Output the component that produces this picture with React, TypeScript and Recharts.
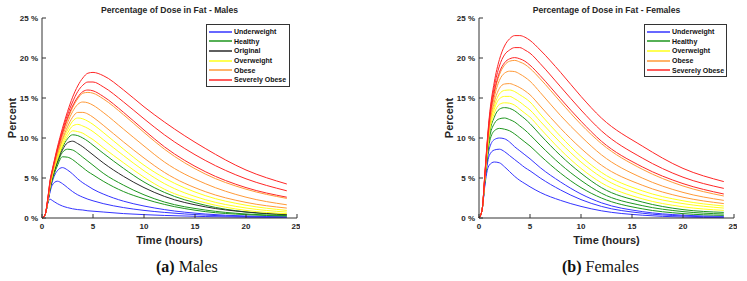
import { LineChart, Line, XAxis, YAxis, Legend } from "recharts";

// sample times (hours) shared by every curve
const hours = [0, 0.3, 0.6, 0.8, 1, 1.5, 2, 2.5, 3, 3.5, 4, 4.5, 5, 6, 8, 10, 12, 16, 20, 24];
const hourTicks = [0, 5, 10, 15, 20, 25];
const percentTicks = [0, 5, 10, 15, 20, 25];

// males, % of dose in fat
const maleUnderweight = [
  [0, 0.4, 2.0, 2.35, 2.2, 1.8, 1.5, 1.3, 1.15, 1.05, 1.0, 0.9, 0.85, 0.75, 0.55, 0.42, 0.32, 0.18, 0.1, 0.06],
  [0, 0.4, 2.1, 3.3, 4.1, 4.6, 4.3, 3.8, 3.3, 2.9, 2.6, 2.35, 2.15, 1.8, 1.3, 0.95, 0.7, 0.36, 0.18, 0.1],
  [0, 0.4, 2.2, 3.5, 4.5, 5.9, 6.3, 6.0, 5.5, 4.9, 4.4, 4.0, 3.6, 3.0, 2.1, 1.5, 1.05, 0.5, 0.25, 0.15],
];
const maleHealthy = [
  [0, 0.4, 2.2, 3.7, 4.7, 6.5, 7.65, 7.6, 7.3, 6.8, 6.3, 5.8, 5.4, 4.6, 3.3, 2.4, 1.7, 0.8, 0.42, 0.25],
  [0, 0.4, 2.3, 3.8, 4.9, 6.8, 8.2, 8.6, 8.5, 8.1, 7.6, 7.1, 6.6, 5.6, 4.1, 2.9, 2.0, 1.0, 0.5, 0.3],
  [0, 0.4, 2.4, 4.0, 5.1, 7.2, 8.8, 9.9, 10.4, 10.3, 10.0, 9.6, 9.1, 8.1, 6.2, 4.5, 3.2, 1.6, 0.75, 0.4],
];
const maleOriginal = [
  [0, 0.4, 2.3, 3.9, 5.0, 7.0, 8.5, 9.4, 9.6, 9.3, 8.9, 8.4, 7.9, 6.9, 5.2, 3.8, 2.7, 1.4, 0.75, 0.45],
];
const maleOverweight = [
  [0, 0.4, 2.4, 4.0, 5.2, 7.3, 9.0, 10.2, 10.9, 10.8, 10.6, 10.2, 9.8, 8.8, 6.9, 5.1, 3.6, 1.9, 0.95, 0.54],
  [0, 0.4, 2.4, 4.1, 5.3, 7.5, 9.3, 10.6, 11.5, 11.7, 11.5, 11.2, 10.8, 9.8, 7.8, 5.9, 4.3, 2.3, 1.25, 0.74],
  [0, 0.4, 2.5, 4.2, 5.4, 7.7, 9.6, 11.0, 12.1, 12.5, 12.4, 12.1, 11.7, 10.7, 8.6, 6.6, 5.0, 2.8, 1.6, 0.95],
];
const maleObese = [
  [0, 0.4, 2.5, 4.3, 5.5, 7.9, 9.8, 11.4, 12.6, 13.2, 13.2, 13.0, 12.6, 11.6, 9.5, 7.5, 5.7, 3.3, 1.95, 1.24],
  [0, 0.4, 2.6, 4.4, 5.6, 8.1, 10.2, 11.9, 13.3, 14.2, 14.5, 14.4, 14.1, 13.2, 11.1, 9.0, 7.0, 4.3, 2.6, 1.65],
  [0, 0.4, 2.6, 4.5, 5.7, 8.3, 10.5, 12.3, 13.8, 14.9, 15.6, 15.7, 15.6, 14.9, 12.9, 10.7, 8.6, 5.5, 3.6, 2.45],
];
const maleSeverelyObese = [
  [0, 0.4, 2.7, 4.6, 5.8, 8.4, 10.6, 12.5, 14.0, 15.1, 15.8, 16.0, 15.9, 15.2, 13.2, 11.0, 8.9, 5.8, 3.8, 2.6],
  [0, 0.4, 2.7, 4.7, 5.9, 8.6, 10.9, 12.9, 14.5, 15.8, 16.6, 17.0, 17.0, 16.4, 14.5, 12.4, 10.4, 7.2, 4.9, 3.4],
  [0, 0.4, 2.8, 4.8, 6.0, 8.8, 11.2, 13.3, 15.1, 16.5, 17.5, 18.1, 18.2, 17.8, 16.0, 13.9, 12.0, 8.7, 6.0, 4.25],
];

// females, % of dose in fat
const femaleUnderweight = [
  [0, 1.0, 4.3, 5.9, 6.6, 7.0, 6.9, 6.4, 5.8, 5.2, 4.7, 4.3, 3.9, 3.2, 2.2, 1.45, 0.9, 0.35, 0.12, 0.05],
  [0, 1.0, 4.6, 6.6, 7.8, 8.5, 8.6, 8.3, 7.8, 7.3, 6.8, 6.3, 5.9, 5.0, 3.5, 2.3, 1.45, 0.6, 0.25, 0.1],
  [0, 1.0, 4.8, 7.0, 8.6, 9.8, 10.0, 9.9, 9.5, 8.9, 8.4, 7.9, 7.4, 6.3, 4.5, 3.0, 1.9, 0.8, 0.35, 0.2],
];
const femaleHealthy = [
  [0, 1.0, 5.0, 7.4, 9.3, 10.9, 11.2, 11.1, 10.9, 10.5, 10.0, 9.5, 9.0, 7.8, 5.6, 3.8, 2.5, 1.15, 0.55, 0.33],
  [0, 1.0, 5.1, 7.7, 9.8, 11.8, 12.4, 12.5, 12.3, 12.0, 11.5, 11.0, 10.4, 9.1, 6.7, 4.7, 3.1, 1.55, 0.8, 0.5],
  [0, 1.0, 5.2, 7.9, 10.2, 12.6, 13.6, 13.8, 13.7, 13.4, 12.9, 12.4, 11.8, 10.4, 7.8, 5.6, 3.8, 2.0, 1.05, 0.7],
];
const femaleOverweight = [
  [0, 1.0, 5.3, 8.1, 10.5, 13.1, 14.2, 14.4, 14.35, 14.1, 13.6, 13.1, 12.6, 11.2, 8.5, 6.2, 4.4, 2.4, 1.4, 0.95],
  [0, 1.0, 5.4, 8.3, 10.8, 13.6, 14.9, 15.2, 15.2, 14.9, 14.5, 14.0, 13.5, 12.1, 9.4, 7.0, 5.1, 2.9, 1.8, 1.24],
  [0, 1.0, 5.5, 8.5, 11.0, 14.0, 15.5, 15.95, 16.0, 15.8, 15.4, 15.0, 14.5, 13.0, 10.2, 7.7, 5.7, 3.4, 2.15, 1.5],
];
const femaleObese = [
  [0, 1.0, 5.6, 8.6, 11.2, 14.5, 16.2, 16.75, 16.8, 16.6, 16.3, 15.9, 15.4, 14.0, 11.2, 8.7, 6.6, 4.1, 2.6, 1.8],
  [0, 1.0, 5.7, 8.8, 11.5, 15.1, 17.2, 18.1, 18.35, 18.3, 18.0, 17.6, 17.1, 15.7, 12.8, 10.2, 7.9, 5.0, 3.2, 2.2],
  [0, 1.0, 5.8, 9.0, 11.8, 15.6, 17.9, 19.1, 19.6, 19.7, 19.5, 19.2, 18.7, 17.4, 14.5, 11.7, 9.3, 6.1, 4.0, 2.75],
];
const femaleSeverelyObese = [
  [0, 1.0, 5.8, 9.1, 11.9, 15.8, 18.2, 19.4, 19.9, 20.05, 19.9, 19.6, 19.1, 17.8, 14.9, 12.1, 9.6, 6.4, 4.3, 3.0],
  [0, 1.0, 5.9, 9.3, 12.2, 16.4, 19.0, 20.4, 21.0, 21.3, 21.3, 21.0, 20.6, 19.3, 16.4, 13.5, 10.9, 7.5, 5.1, 3.7],
  [0, 1.0, 6.0, 9.5, 12.5, 17.0, 19.8, 21.5, 22.4, 22.8, 22.8, 22.6, 22.2, 21.0, 18.2, 15.2, 12.5, 9.0, 6.2, 4.55],
];

const BLUE = "#3434ff";
const GREEN = "#1e961e";
const BLACK = "#2a2a2a";
const YELLOW = "#ffff1a";
const ORANGE = "#ff9a38";
const RED = "#ff2626";
const AXIS = "#333333";
const TEXT = "#262626";
const FONT = '"Liberation Sans", Arial, Helvetica, sans-serif';

type Group = { name: string; color: string; curves: number[][] };

const maleGroups: Group[] = [
  { name: "Underweight", color: BLUE, curves: maleUnderweight },
  { name: "Healthy", color: GREEN, curves: maleHealthy },
  { name: "Original", color: BLACK, curves: maleOriginal },
  { name: "Overweight", color: YELLOW, curves: maleOverweight },
  { name: "Obese", color: ORANGE, curves: maleObese },
  { name: "Severely Obese", color: RED, curves: maleSeverelyObese },
];

const femaleGroups: Group[] = [
  { name: "Underweight", color: BLUE, curves: femaleUnderweight },
  { name: "Healthy", color: GREEN, curves: femaleHealthy },
  { name: "Overweight", color: YELLOW, curves: femaleOverweight },
  { name: "Obese", color: ORANGE, curves: femaleObese },
  { name: "Severely Obese", color: RED, curves: femaleSeverelyObese },
];

function buildRows(groups: Group[]) {
  return hours.map((t, i) => {
    const row: Record<string, number> = { t };
    groups.forEach((g, gi) => g.curves.forEach((c, ci) => (row[`s${gi}_${ci}`] = c[i])));
    return row;
  });
}

const tickStyle = { fontSize: 8, fontWeight: 700, fill: TEXT, fontFamily: FONT };

// one entry per group, in plotting order
function BoxLegend({ payload, width, groups }: any) {
  const items = (payload || []).filter((p: any) => p.type !== "none");
  const order = groups.map((g: Group) => g.name);
  const seen = new Set<string>();
  const entries = items
    .filter((p: any) => (seen.has(p.value) ? false : (seen.add(p.value), true)))
    .sort((a: any, b: any) => order.indexOf(a.value) - order.indexOf(b.value));
  return (
    <div style={{ width, boxSizing: "border-box", border: `1px solid ${AXIS}`, background: "#fff", padding: "2px 0 1px 2px" }}>
      {entries.map((p: any) => (
        <div key={p.value} style={{ display: "flex", alignItems: "center", height: 9.6 }}>
          <svg width={23} height={4} style={{ flex: "none" }}>
            <line x1={0} y1={2} x2={23} y2={2} stroke={p.color} strokeWidth={1.5} />
          </svg>
          <span style={{ marginLeft: 2, fontSize: 7, fontWeight: 700, color: "#111", fontFamily: FONT, whiteSpace: "nowrap", lineHeight: "9px" }}>
            {p.value}
          </span>
        </div>
      ))}
    </div>
  );
}

function FatChart({ groups, title, legendLeft, legendWidth, left }: { groups: Group[]; title: string; legendLeft: number; legendWidth: number; left: number }) {
  const rows = buildRows(groups);
  return (
    <div style={{ position: "absolute", left, top: 0, width: 300, height: 250, fontFamily: FONT }}>
      <div style={{ position: "absolute", left: 42, top: 5, width: 255, textAlign: "center", fontSize: 8.6, fontWeight: 700, color: TEXT, lineHeight: "11px" }}>
        {title}
      </div>
      <LineChart width={300} height={250} data={rows} margin={{ top: 18, right: 3, bottom: 0, left: 0 }}>
        <XAxis
          dataKey="t"
          type="number"
          domain={[0, 25]}
          ticks={hourTicks}
          height={32}
          tickSize={-4}
          tickMargin={9}
          axisLine={{ stroke: AXIS }}
          tickLine={{ stroke: AXIS }}
          tick={tickStyle}
          label={{ value: "Time (hours)", position: "insideBottom", offset: 6, style: { fontSize: 11, fontWeight: 700, fill: TEXT } }}
        />
        <XAxis xAxisId="top" orientation="top" type="number" domain={[0, 25]} ticks={hourTicks} height={0} tickSize={-4} tick={false} axisLine={{ stroke: AXIS }} tickLine={{ stroke: AXIS }} />
        <YAxis
          domain={[0, 25]}
          ticks={percentTicks}
          width={42}
          tickSize={-4}
          tickMargin={8}
          axisLine={{ stroke: AXIS }}
          tickLine={{ stroke: AXIS }}
          tick={tickStyle}
          tickFormatter={(v: number) => `${v} %`}
          label={{ value: "Percent", angle: -90, position: "insideLeft", offset: 12, style: { textAnchor: "middle", fontSize: 11, fontWeight: 700, fill: TEXT } }}
        />
        <YAxis yAxisId="right" orientation="right" domain={[0, 25]} ticks={percentTicks} width={0} tickSize={-4} tick={false} axisLine={{ stroke: AXIS }} tickLine={{ stroke: AXIS }} />
        <Legend
          layout="vertical"
          align="center"
          verticalAlign="middle"
          wrapperStyle={{ left: legendLeft, top: 24, width: legendWidth }}
          content={(props: any) => <BoxLegend {...props} width={legendWidth} groups={groups} />}
        />
        {groups.map((g, gi) =>
          g.curves.map((_, ci) => (
            <Line
              key={`s${gi}_${ci}`}
              dataKey={`s${gi}_${ci}`}
              name={g.name}
              type="monotone"
              stroke={g.color}
              strokeWidth={1}
              dot={false}
              activeDot={false}
              legendType={ci === 0 ? "plainline" : "none"}
              isAnimationActive={false}
            />
          ))
        )}
      </LineChart>
    </div>
  );
}

export default function App() {
  const caption = { position: "absolute" as const, top: 257, fontSize: 16, fontFamily: '"Liberation Serif", "Times New Roman", serif', color: "#111", lineHeight: "20px", whiteSpace: "nowrap" as const };
  return (
    <div style={{ position: "absolute", left: 0, top: 0, width: 747, height: 281, background: "#fff", overflow: "hidden" }}>
      <FatChart groups={maleGroups} title="Percentage of Dose in Fat - Males" left={0} legendLeft={206} legendWidth={84} />
      <FatChart groups={femaleGroups} title="Percentage of Dose in Fat - Females" left={437} legendLeft={207} legendWidth={83} />
      <div style={{ ...caption, left: 156 }}>
        <b>(a)</b> Males
      </div>
      <div style={{ ...caption, left: 562 }}>
        <b>(b)</b> Females
      </div>
    </div>
  );
}
